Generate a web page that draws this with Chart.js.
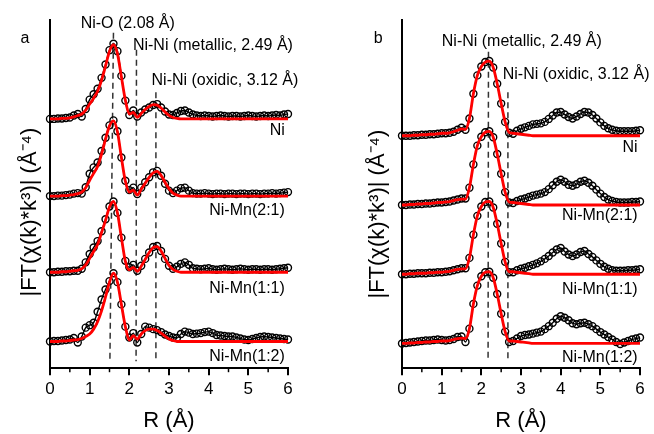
<!DOCTYPE html>
<html>
<head>
<meta charset="utf-8">
<script src="https://cdn.jsdelivr.net/npm/chart.js@4.4.1/dist/chart.umd.min.js"></script>
<style>
  body { margin: 0; background: #fff; }
  #wrap { position: relative; width: 654px; height: 434px; }
  canvas { position: absolute; left: 0; top: 0; }
</style>
</head>
<body>
<div id="wrap">
  <canvas id="chartA" width="654" height="434"></canvas>
  <canvas id="chartB" width="654" height="434"></canvas>
</div>
<script>
// R grid (Å)
const rValues = [0.0,0.1,0.2,0.3,0.4,0.5,0.6,0.7,0.8,0.9, 1.0,1.1,1.2,1.3,1.4,1.5,1.6,1.7,1.8,1.9,
                 2.0,2.1,2.2,2.3,2.4,2.5,2.6,2.7,2.8,2.9, 3.0,3.1,3.2,3.3,3.4,3.5,3.6,3.7,3.8,3.9,
                 4.0,4.1,4.2,4.3,4.4,4.5,4.6,4.7,4.8,4.9, 5.0,5.1,5.2,5.3,5.4,5.5,5.6,5.7,5.8,5.9, 6.0];

const sampleNames = ['Ni', 'Ni-Mn(2:1)', 'Ni-Mn(1:1)', 'Ni-Mn(1:2)'];

// pannello a - dati sperimentali
const niA = [0.00,0.00,0.01,0.01,0.02,0.03,0.07,0.10,0.05,0.20, 0.39,0.50,0.61,0.83,1.10,1.39,1.52,1.37,0.87,0.37,
             0.08,0.17,0.05,0.13,0.19,0.23,0.28,0.30,0.23,0.15, 0.09,0.08,0.12,0.16,0.17,0.13,0.09,0.07,0.06,0.07,
             0.06,0.05,0.06,0.07,0.06,0.05,0.06,0.06,0.05,0.06, 0.07,0.06,0.05,0.06,0.07,0.06,0.07,0.08,0.07,0.09, 0.10];
const niMn21A = [0.00,0.00,0.01,0.01,0.02,0.03,0.05,0.06,0.05,0.18, 0.45,0.58,0.68,0.91,1.18,1.43,1.53,1.31,0.78,0.31,
                 0.12,0.17,0.04,0.17,0.28,0.38,0.48,0.51,0.41,0.25, 0.11,0.06,0.11,0.16,0.17,0.11,0.06,0.05,0.05,0.06,
                 0.05,0.04,0.05,0.05,0.04,0.05,0.05,0.04,0.05,0.05, 0.04,0.05,0.05,0.04,0.05,0.05,0.06,0.05,0.06,0.07, 0.08];
const niMn11A = [0.00,0.00,0.01,0.01,0.02,0.02,0.03,0.03,0.07,0.20, 0.37,0.50,0.63,0.83,1.07,1.33,1.43,1.20,0.70,0.23,
                 0.10,0.15,0.03,0.13,0.27,0.40,0.51,0.53,0.43,0.27, 0.13,0.07,0.11,0.17,0.20,0.15,0.08,0.07,0.06,0.07,
                 0.08,0.06,0.05,0.06,0.07,0.06,0.05,0.06,0.07,0.06, 0.05,0.06,0.06,0.05,0.06,0.06,0.05,0.06,0.07,0.08, 0.09];
const niMn12A = [0.00,0.01,0.01,0.02,0.03,0.04,0.07,-0.02,0.10,0.28, 0.33,0.38,0.60,0.85,1.05,1.22,1.38,1.20,0.75,0.30,
                 0.08,0.17,-0.02,0.15,0.30,0.28,0.25,0.23,0.19,0.14, 0.11,0.08,0.07,0.15,0.20,0.18,0.15,0.16,0.17,0.19,
                 0.20,0.17,0.13,0.12,0.11,0.10,0.10,0.08,0.06,0.04, 0.03,0.05,0.07,0.09,0.10,0.09,0.08,0.07,0.06,0.05, 0.04];

// pannello a - fit
const fitNiA = [0.00,0.00,0.00,0.01,0.01,0.02,0.04,0.07,0.10,0.18, 0.30,0.42,0.56,0.78,1.07,1.37,1.50,1.32,0.85,0.38,
                0.10,0.13,0.03,0.11,0.19,0.25,0.29,0.28,0.22,0.14, 0.07,0.03,0.01,0.00,0,0,0,0,0,0,
                0,0,0,0,0,0,0,0,0,0, 0,0,0,0,0,0,0,0,0,0, 0];
const fitNiMn21A = [0.00,0.00,0.00,0.01,0.01,0.02,0.03,0.05,0.08,0.17, 0.32,0.46,0.60,0.85,1.15,1.42,1.52,1.30,0.78,0.30,
                    0.08,0.12,0.02,0.14,0.26,0.38,0.47,0.50,0.42,0.28, 0.15,0.06,0.02,0.00,0,0,0,0,0,0,
                    0,0,0,0,0,0,0,0,0,0, 0,0,0,0,0,0,0,0,0,0, 0];
const fitNiMn11A = [0.00,0.00,0.00,0.01,0.01,0.02,0.03,0.04,0.07,0.15, 0.28,0.42,0.56,0.80,1.05,1.32,1.43,1.20,0.70,0.22,
                    0.05,0.10,0.02,0.12,0.26,0.40,0.50,0.52,0.43,0.28, 0.14,0.06,0.02,0.00,0,0,0,0,0,0,
                    0,0,0,0,0,0,0,0,0,0, 0,0,0,0,0,0,0,0,0,0, 0];
const fitNiMn12A = [0.00,0.00,0.00,0.01,0.01,0.02,0.03,0.04,0.06,0.10, 0.15,0.25,0.40,0.62,0.90,1.20,1.38,1.20,0.75,0.30,
                    0.03,0.12,0.05,0.15,0.22,0.25,0.25,0.22,0.17,0.11, 0.05,0.02,0.00,0.00,0,0,0,0,0,0,
                    0,0,0,0,0,0,0,0,0,0, 0,0,0,0,0,0,0,0,0,0, 0];

// pannello b - dati sperimentali
const niB = [0.00,0.00,0.00,0.01,0.01,0.02,0.02,0.03,0.03,0.04, 0.05,0.05,0.06,0.08,0.12,0.16,0.12,0.35,0.85,1.22,
             1.40,1.49,1.51,1.38,1.05,0.65,0.28,0.06,0.04,0.10, 0.14,0.17,0.20,0.23,0.24,0.25,0.28,0.34,0.41,0.47,
             0.48,0.43,0.38,0.35,0.39,0.44,0.48,0.47,0.42,0.35, 0.27,0.20,0.15,0.12,0.10,0.09,0.09,0.09,0.09,0.10, 0.11];
const niMn21B = [0.00,0.00,0.01,0.01,0.02,0.02,0.03,0.03,0.04,0.05, 0.05,0.06,0.07,0.09,0.11,0.13,0.13,0.35,0.82,1.20,
                 1.38,1.47,1.49,1.37,1.03,0.63,0.26,0.05,0.04,0.08, 0.11,0.13,0.16,0.19,0.21,0.23,0.26,0.32,0.40,0.47,
                 0.51,0.47,0.41,0.39,0.42,0.47,0.49,0.45,0.39,0.31, 0.23,0.16,0.11,0.08,0.06,0.05,0.05,0.05,0.06,0.06, 0.07];
const niMn11B = [0.00,0.00,0.01,0.01,0.02,0.02,0.02,0.03,0.03,0.04, 0.04,0.05,0.06,0.08,0.10,0.12,0.12,0.33,0.80,1.18,
                 1.37,1.46,1.47,1.35,1.02,0.62,0.25,0.04,0.04,0.08, 0.11,0.13,0.16,0.19,0.22,0.26,0.31,0.37,0.44,0.50,
                 0.53,0.46,0.40,0.37,0.40,0.45,0.47,0.41,0.35,0.28, 0.21,0.15,0.11,0.08,0.07,0.07,0.07,0.08,0.08,0.09, 0.10];
const niMn12B = [0.00,0.01,0.02,0.03,0.04,0.05,0.06,0.06,0.07,0.08, 0.07,0.06,0.07,0.09,0.13,0.14,0.03,0.30,0.80,1.17,
                 1.36,1.44,1.45,1.33,1.00,0.60,0.24,0.03,0.05,0.10, 0.15,0.17,0.18,0.20,0.22,0.24,0.29,0.35,0.42,0.50,
                 0.55,0.52,0.47,0.41,0.39,0.41,0.42,0.39,0.35,0.29, 0.23,0.18,0.13,0.08,0.03,-0.01,0.02,0.05,0.08,0.10, 0.12];

// pannello b - fit
const fitNiB = [0.00,0.00,0.00,0.01,0.01,0.02,0.02,0.03,0.03,0.04, 0.05,0.05,0.06,0.08,0.11,0.14,0.13,0.35,0.85,1.22,
                1.40,1.49,1.51,1.38,1.05,0.65,0.28,0.07,0.05,0.04, 0.03,0.02,0.01,0.00,0,0,0,0,0,0,
                0,0,0,0,0,0,0,0,0,0, 0,0,0,0,0,0,0,0,0,0, 0];
const fitNiMn21B = [0.00,0.00,0.01,0.01,0.02,0.02,0.03,0.03,0.04,0.05, 0.05,0.06,0.07,0.09,0.11,0.12,0.12,0.35,0.82,1.20,
                    1.38,1.47,1.49,1.37,1.03,0.63,0.26,0.06,0.05,0.04, 0.03,0.02,0.01,0.00,0,0,0,0,0,0,
                    0,0,0,0,0,0,0,0,0,0, 0,0,0,0,0,0,0,0,0,0, 0];
const fitNiMn11B = [0.00,0.00,0.01,0.01,0.02,0.02,0.02,0.03,0.03,0.04, 0.04,0.05,0.06,0.08,0.10,0.11,0.11,0.33,0.80,1.18,
                    1.37,1.46,1.47,1.35,1.02,0.62,0.25,0.05,0.05,0.04, 0.03,0.02,0.01,0.00,0,0,0,0,0,0,
                    0,0,0,0,0,0,0,0,0,0, 0,0,0,0,0,0,0,0,0,0, 0];
const fitNiMn12B = [0.00,0.00,0.01,0.01,0.02,0.02,0.03,0.03,0.04,0.04, 0.05,0.05,0.06,0.08,0.10,0.11,0.10,0.30,0.80,1.17,
                    1.36,1.44,1.45,1.33,1.00,0.60,0.24,0.05,0.05,0.04, 0.03,0.02,0.01,0.00,0,0,0,0,0,0,
                    0,0,0,0,0,0,0,0,0,0, 0,0,0,0,0,0,0,0,0,0, 0];

// spostamento verticale di ogni curva
const offsetsA = [5.04, 3.48, 1.94, 0.54];
const offsetsB = [4.70, 3.30, 1.90, 0.50];

// linee tratteggiate: R in alto, R in basso, quota superiore
const dashRTopA = [1.60, 2.18, 2.67];
const dashRBottomA = [1.51, 2.17, 2.67];
const dashTopA = [6.78, 6.44, 5.58];
const dashRTopB = [2.18, 2.67];
const dashRBottomB = [2.17, 2.67];
const dashTopB = [6.40, 5.58];
const dashBottom = 0.14;

const minorTicks = [0.5, 1.5, 2.5, 3.5, 4.5, 5.5];
const yTitle = '|FT(\u03C7(k)*k\u00B3)| (\u00C5\u207B\u2074)';
const xTitle = 'R (\u00C5)';

// testi: annotazioni
const notesA = [
  { text: 'a', r: -0.63, v: 6.58, align: 'center' },
  { text: 'Ni-O (2.08 \u00C5)', r: 1.96, v: 6.87, align: 'center' },
  { text: 'Ni-Ni (metallic, 2.49 \u00C5)', r: 2.09, v: 6.44, align: 'left' },
  { text: 'Ni-Ni (oxidic, 3.12 \u00C5)', r: 2.56, v: 5.73, align: 'left' },
];
const notesB = [
  { text: 'b', r: -0.60, v: 6.58, align: 'center' },
  { text: 'Ni-Ni (metallic, 2.49 \u00C5)', r: 3.02, v: 6.51, align: 'center' },
  { text: 'Ni-Ni (oxidic, 3.12 \u00C5)', r: 2.54, v: 5.84, align: 'left' },
];
const nameYA = [4.72, 3.09, 1.52, 0.14];
const nameYB = [4.37, 2.99, 1.50, 0.12];

const FONT = '"Liberation Sans", Arial, sans-serif';
Chart.defaults.font.family = FONT;
Chart.defaults.color = '#000';

function points(values, offset) {
  return values.map((v, i) => ({ x: rValues[i], y: v + offset }));
}

// plugin per testi, tacche minori e titolo asse y
const textMarks = {
  id: 'textMarks',
  afterDraw(chart, args, opts) {
    const { ctx, chartArea, scales: { x, y } } = chart;
    ctx.save();
    ctx.strokeStyle = '#000';
    ctx.lineWidth = 1.5;
    minorTicks.forEach(v => {
      const px = x.getPixelForValue(v);
      ctx.beginPath();
      ctx.moveTo(px, chartArea.bottom);
      ctx.lineTo(px, chartArea.bottom + 4);
      ctx.stroke();
    });
    ctx.fillStyle = '#000';
    ctx.textBaseline = 'alphabetic';
    ctx.font = '16px ' + FONT;
    opts.notes.forEach(n => {
      ctx.textAlign = n.align;
      ctx.fillText(n.text, x.getPixelForValue(n.r), y.getPixelForValue(n.v));
    });
    ctx.textAlign = 'right';
    sampleNames.forEach((name, i) => {
      ctx.fillText(name, x.getPixelForValue(opts.nameR), y.getPixelForValue(opts.nameY[i]));
    });
    ctx.translate(chartArea.left - opts.titleDx, (chartArea.top + chartArea.bottom) / 2 + opts.titleDy);
    ctx.rotate(-Math.PI / 2);
    ctx.font = '22px ' + FONT;
    ctx.textAlign = 'center';
    ctx.textBaseline = 'middle';
    ctx.fillText(yTitle, 0, 0);
    ctx.restore();
  }
};

function makeChart(id, dataList, fitList, offsets, dashTopR, dashBotR, dashTop, notes, nameY, nameR, padding, titleDx, titleDy) {
  const datasets = [];
  fitList.forEach((f, i) => datasets.push({
    data: points(f, offsets[i]),
    borderColor: '#ff0000', borderWidth: 2.8, pointRadius: 0,
    cubicInterpolationMode: 'monotone', order: 0, clip: false
  }));
  dataList.forEach((d, i) => datasets.push({
    data: points(d, offsets[i]),
    borderColor: '#000', borderWidth: 1.4, cubicInterpolationMode: 'monotone',
    pointStyle: 'circle', pointRadius: 3.5, pointBorderWidth: 1.4,
    pointBorderColor: '#000', pointBackgroundColor: 'rgba(255,255,255,0)', order: 1, clip: false
  }));
  dashTopR.forEach((r, i) => datasets.push({
    data: [{ x: r, y: dashTop[i] }, { x: dashBotR[i], y: dashBottom }],
    borderColor: '#333', borderWidth: 1.5, borderDash: [6, 4], pointRadius: 0, order: 2, clip: false
  }));

  return new Chart(document.getElementById(id), {
    type: 'line',
    data: { datasets },
    options: {
      responsive: false,
      animation: false,
      layout: { padding },
      plugins: {
        legend: { display: false },
        tooltip: { enabled: false },
        textMarks: { notes, nameY, nameR, titleDx, titleDy }
      },
      scales: {
        x: {
          type: 'linear', min: 0, max: 6,
          ticks: { stepSize: 1, padding: 4, font: { size: 17 }, color: '#000' },
          grid: { display: true, drawOnChartArea: false, drawTicks: true, tickLength: 7, color: '#000', lineWidth: 2 },
          border: { display: true, color: '#000', width: 2 },
          title: { display: true, text: xTitle, font: { size: 22 }, padding: { top: 4, bottom: 0 } }
        },
        y: {
          min: 0, max: 7.04,
          ticks: { display: false },
          grid: { display: false, drawTicks: false },
          border: { display: true, color: '#000', width: 2 }
        }
      }
    },
    plugins: [textMarks]
  });
}

makeChart('chartA', [niA, niMn21A, niMn11A, niMn12A], [fitNiA, fitNiMn21A, fitNiMn11A, fitNiMn12A], offsetsA,
  dashRTopA, dashRBottomA, dashTopA, notesA, nameYA, 5.92,
  { left: 50, right: 366, top: 20, bottom: 0 }, 20, 18);
makeChart('chartB', [niB, niMn21B, niMn11B, niMn12B], [fitNiB, fitNiMn21B, fitNiMn11B, fitNiMn12B], offsetsB,
  dashRTopB, dashRBottomB, dashTopB, notesB, nameYB, 5.94,
  { left: 402, right: 14, top: 20, bottom: 0 }, 24, 20);
</script>
</body>
</html>
